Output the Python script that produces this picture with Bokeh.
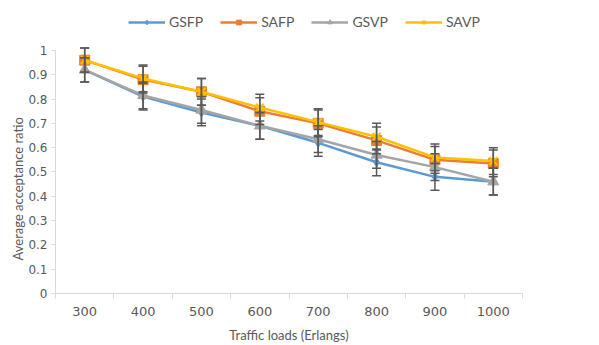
from bokeh.plotting import figure
from bokeh.models import (ColumnDataSource, Range1d, FixedTicker, NumeralTickFormatter,
                          Whisker, TeeHead, Legend, LegendItem, Title)
from bokeh.embed import file_html
from bokeh.resources import INLINE

# Traffic loads (Erlangs) and average acceptance ratio per scheme
loads = [300, 400, 500, 600, 700, 800, 900, 1000]
gsfp = [0.92, 0.81, 0.745, 0.69, 0.62, 0.54, 0.48, 0.46]
safp = [0.96, 0.88, 0.83, 0.75, 0.70, 0.63, 0.55, 0.535]
gsvp = [0.92, 0.815, 0.755, 0.69, 0.635, 0.57, 0.52, 0.46]
savp = [0.96, 0.885, 0.83, 0.765, 0.705, 0.645, 0.56, 0.545]
err = [0.05, 0.055, 0.055, 0.055, 0.055, 0.055, 0.055, 0.055]

names = ["GSFP", "SAFP", "GSVP", "SAVP"]
series = [gsfp, safp, gsvp, savp]
colors = ["#5B9BD5", "#ED7D31", "#A5A5A5", "#FFC000"]
markers = ["diamond", "square", "triangle", "x"]
msizes = [9, 10, 11, 11]

FONT = "Lato"
NUMFONT = "DejaVu Sans"
TXT = "#595959"
AX = "#D9D9D9"

xs = list(range(len(loads)))

# frame reaches the top of the canvas so the legend row fits inside it;
# the value axis itself is bounded to 0..1
p = figure(width=599, height=345, output_backend="svg", toolbar_location=None,
           x_range=Range1d(-0.5, len(loads) - 0.5), y_range=Range1d(0, 1.185),
           min_border_left=55, min_border_right=77, min_border_top=5,
           min_border_bottom=52)
p.outline_line_color = None
p.grid.grid_line_color = None
p.background_fill_color = "white"

items = []
for name, ys, c, m, ms in zip(names, series, colors, markers, msizes):
    src = ColumnDataSource(dict(x=xs, y=ys,
                                upper=[v + e for v, e in zip(ys, err)],
                                lower=[v - e for v, e in zip(ys, err)]))
    ln = p.line("x", "y", source=src, line_color=c, line_width=2.5)
    if m == "x":
        mk = p.scatter("x", "y", source=src, marker=m, size=ms, line_color=c, line_width=2)
    else:
        mk = p.scatter("x", "y", source=src, marker=m, size=ms, fill_color=c, line_color=c)
    wh = Whisker(source=src, base="x", upper="upper", lower="lower",
                 line_color="#595959", line_width=1.5, level="glyph",
                 upper_head=TeeHead(size=9, line_color="#595959", line_width=1.5),
                 lower_head=TeeHead(size=9, line_color="#595959", line_width=1.5))
    p.add_layout(wh)
    items.append(LegendItem(label=name, renderers=[ln, mk]))

# x axis: category labels at centres, ticks at category boundaries
xa = p.xaxis[0]
xa.ticker = FixedTicker(ticks=xs, minor_ticks=[i - 0.5 for i in range(len(loads) + 1)])
xa.major_label_overrides = {i: str(v) for i, v in enumerate(loads)}
xa.major_tick_line_color = None
xa.major_tick_out = 0
xa.major_tick_in = 0
xa.minor_tick_line_color = AX
xa.minor_tick_in = 0
xa.minor_tick_out = 5
xa.axis_line_color = AX
xa.major_label_text_font = NUMFONT
xa.major_label_text_font_size = "13px"
xa.major_label_text_color = TXT
xa.major_label_standoff = 8
xa.axis_label = "Traffic loads (Erlangs)"
xa.axis_label_text_font = FONT
xa.axis_label_text_font_size = "13px"
xa.axis_label_text_font_style = "normal"
xa.axis_label_text_color = TXT
xa.axis_label_standoff = 8

ya = p.yaxis[0]
ya.bounds = (0, 1)
ya.ticker = FixedTicker(ticks=[i / 10 for i in range(11)])
ya.formatter = NumeralTickFormatter(format="0.[0]")
ya.axis_line_color = AX
ya.major_tick_line_color = AX
ya.major_tick_in = 0
ya.major_tick_out = 4
ya.minor_tick_line_color = None
ya.major_label_text_font = NUMFONT
ya.major_label_text_font_size = "12px"
ya.major_label_text_color = TXT
ya.major_label_standoff = 4

# value-axis title, anchored near the bottom of the 0..1 span
p.add_layout(Title(text="Average acceptance ratio", align="left", offset=33,
                   text_font=FONT, text_font_size="13px", text_font_style="normal",
                   text_color=TXT, standoff=0), "left")

# legend row across the top of the frame
legend = Legend(items=items, orientation="horizontal", location=(73, 263),
                label_text_font=FONT, label_text_font_size="14px",
                label_text_color=TXT, glyph_width=37, glyph_height=12,
                label_standoff=4, spacing=17, border_line_color=None,
                background_fill_alpha=0, padding=2, margin=0)
p.add_layout(legend)

open("out.html", "w").write(file_html(p, INLINE))
